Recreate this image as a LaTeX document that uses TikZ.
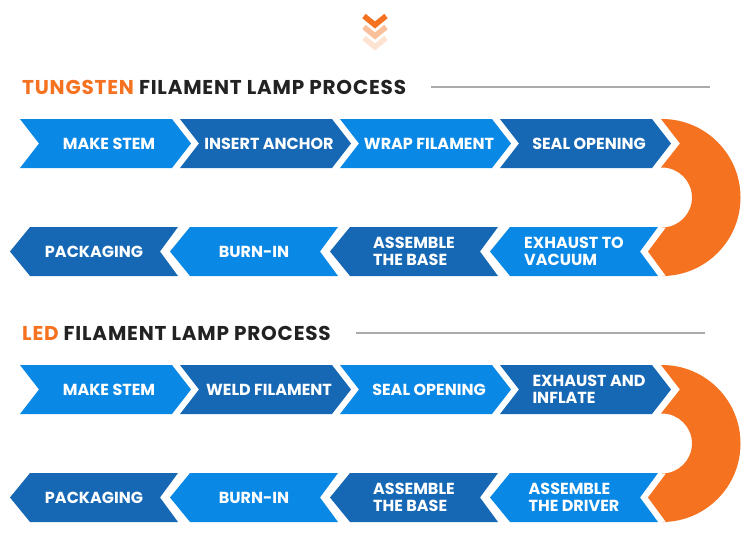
\documentclass[tikz,border=0pt]{standalone}
\usepackage{fontspec}
\setmainfont{Poppins}
\usetikzlibrary{positioning}

\definecolor{lightblue}{RGB}{10,136,230}
\definecolor{darkblue}{RGB}{22,104,180}
\definecolor{lamporange}{RGB}{244,114,32}
\definecolor{rulegray}{RGB}{170,170,170}
\definecolor{titleblack}{RGB}{34,34,34}

\begin{document}
\begin{tikzpicture}[x=1pt, y=-1pt,
    steptext/.style={text=white, align=left, inner sep=0pt,
      font=\bfseries\fontsize{16}{16.5}\selectfont},
    title/.style={anchor=west, inner sep=0pt, text=titleblack,
      font=\bfseries\fontsize{20}{20}\selectfont\addfontfeature{LetterSpace=4}},
    rule/.style={rulegray, line width=1.6pt}]
  \useasboundingbox (0,0) rectangle (750,554);
  % Chevron icon
  \foreach \c [count=\i from 0] in {100,45,20}
    \draw[lamporange!\c, line width=5.5pt] (364,{16+11*\i}) -- (375,{25+11*\i}) -- (386,{16+11*\i});
  % Titles
  \node[title] (tungTitle) at (22,87) {\textcolor{lamporange}{TUNGSTEN} FILAMENT LAMP PROCESS};
  \coordinate (tungEnd) at (710,87);
  \draw[rule] ([xshift=25pt]tungTitle.east) -- (tungEnd);
  \node[title] (ledTitle) at (22,333) {\textcolor{lamporange}{LED} FILAMENT LAMP PROCESS};
  \coordinate (ledEnd) at (705,333);
  \draw[rule] ([xshift=25pt]ledTitle.east) -- (ledEnd);
  % Orange turns
  \foreach \o in {0,246}
    \fill[lamporange] (662,{119+\o}) arc[start angle=-90, end angle=90, radius=78.5]
      -- (666,{276+\o}) -- (648,{251.5+\o}) -- (666,{227.5+\o}) -- (662,{227.5+\o})
      arc[start angle=90, end angle=-90, radius=30]
      -- (661,{167.5+\o}) -- (680,{143.5+\o}) -- (661,{119+\o}) -- cycle;
  % Tungsten, first row
  \foreach \lbl/\col [count=\k from 0] in {MAKE STEM/lightblue, INSERT ANCHOR/darkblue,
      WRAP FILAMENT/lightblue, SEAL OPENING/darkblue} {
    \pgfmathsetmacro{\xa}{20+160*\k}
    \fill[\col] (\xa,119) -- ({\xa+152},119) -- ({\xa+171},143.5) -- ({\xa+152},168)
      -- (\xa,168) -- ({\xa+19},143.5) -- cycle;
    \node[steptext] (tungA-\k) at ({\xa+89},143.5) {\lbl};
  }
  % Tungsten, second row
  \foreach \lbl/\col [count=\k from 0] in {PACKAGING/darkblue, BURN-IN/lightblue,
      {ASSEMBLE\\THE BASE}/darkblue, {EXHAUST TO\\VACUUM}/lightblue} {
    \pgfmathsetmacro{\xa}{10+160*\k}
    \fill[\col] (\xa,251.5) -- ({\xa+20},227) -- ({\xa+168},227) -- ({\xa+150},251.5)
      -- ({\xa+168},276) -- ({\xa+20},276) -- cycle;
    \node[steptext] (tungB-\k) at ({\xa+84},251.5) {\lbl};
  }
  % LED, first row
  \foreach \lbl/\col [count=\k from 0] in {MAKE STEM/lightblue, WELD FILAMENT/darkblue,
      SEAL OPENING/lightblue, {EXHAUST AND\\INFLATE}/darkblue} {
    \pgfmathsetmacro{\xa}{20+160*\k}
    \fill[\col] (\xa,365) -- ({\xa+152},365) -- ({\xa+171},389.5) -- ({\xa+152},414)
      -- (\xa,414) -- ({\xa+19},389.5) -- cycle;
    \node[steptext] (ledA-\k) at ({\xa+89},389.5) {\lbl};
  }
  % LED, second row
  \foreach \lbl/\col [count=\k from 0] in {PACKAGING/darkblue, BURN-IN/lightblue,
      {ASSEMBLE\\THE BASE}/darkblue, {ASSEMBLE\\THE DRIVER}/lightblue} {
    \pgfmathsetmacro{\xa}{10+160*\k}
    \fill[\col] (\xa,497.5) -- ({\xa+20},473) -- ({\xa+168},473) -- ({\xa+150},497.5)
      -- ({\xa+168},522) -- ({\xa+20},522) -- cycle;
    \node[steptext] (ledB-\k) at ({\xa+84},497.5) {\lbl};
  }
\end{tikzpicture}
\end{document}
